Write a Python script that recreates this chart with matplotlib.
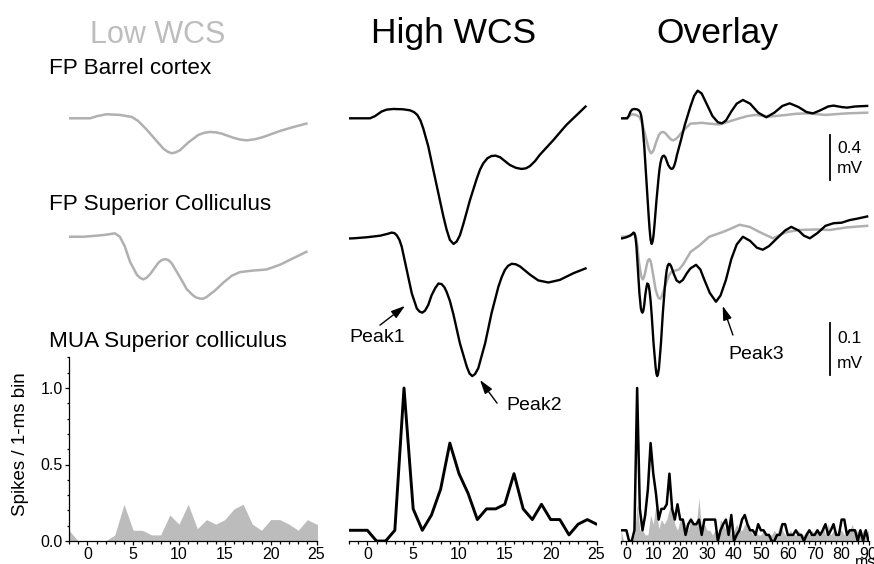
import numpy as np
import matplotlib
matplotlib.use('Agg')
import matplotlib.pyplot as plt
from matplotlib.ticker import MultipleLocator, FormatStrFormatter

plt.rcParams['font.family'] = ['Liberation Sans', 'DejaVu Sans']

GRAY = '#b0b0b0'
TITLE_GRAY = '#bdbdbd'
FILL_GRAY = '#bcbcbc'
W, H = 874, 564

# ---------------- data ----------------
# field potential, barrel cortex (mV re. baseline), time in ms
t_bc_high = [-3, 0.3, 0.85, 1.55, 2.1, 2.85, 3.9, 4.65, 5.1, 5.45, 5.8, 6.1, 6.65, 7.2, 7.75,
             8.3, 8.65, 9.0, 9.4, 9.75, 10.1, 10.5, 11.2, 11.95, 12.3, 12.65, 13.1, 13.55, 14.0,
             14.5, 15.0, 15.55, 16.2, 16.8, 17.3, 17.75, 18.3, 18.8, 20.3, 21.7, 23.8,
             25.2, 26.5, 28, 30, 32, 34, 35.5, 37, 39, 41, 43.3, 46, 49, 52, 55, 58, 60.7,
             64, 67, 69.4, 72, 75, 77, 80, 82, 85, 89.5]
v_bc_high = [0, 0, 0.02, 0.06, 0.077, 0.083, 0.08, 0.071, 0.055, 0.03, -0.02, -0.09, -0.25,
             -0.46, -0.667, -0.874, -0.99, -1.08, -1.117, -1.095, -1.04, -0.933, -0.726,
             -0.533, -0.455, -0.4, -0.355, -0.335, -0.332, -0.347, -0.38, -0.415, -0.44, -0.45,
             -0.445, -0.424, -0.38, -0.326, -0.193, -0.06, 0.104,
             0.2, 0.246, 0.22, 0.12, 0.02, -0.035, -0.045, -0.02, 0.06, 0.13, 0.163, 0.13,
             0.05, 0.009, 0.05, 0.11, 0.133, 0.1, 0.055, 0.044, 0.07, 0.105, 0.113, 0.1, 0.095,
             0.105, 0.11]
t_bc_low = [-3, 0.3, 1.0, 2.1, 3.55, 4.85, 5.55, 6.45, 7.4, 8.3, 8.75, 9.2, 9.65, 10.1, 11.0,
            12.1, 12.7, 13.4, 14.0, 14.65, 15.9, 16.6, 17.4, 18.3, 19.2, 21.0, 22.5, 23.9,
            25.5, 28, 31, 34.6, 38, 42, 45, 48, 53, 59.5, 63, 67, 74, 82, 89.5]
v_bc_low = [0, 0, 0.018, 0.036, 0.03, 0.012, -0.024, -0.098, -0.187, -0.27, -0.296, -0.311,
            -0.302, -0.284, -0.216, -0.148, -0.13, -0.121, -0.125, -0.136, -0.172, -0.188,
            -0.196, -0.186, -0.166, -0.113, -0.077, -0.047,
            -0.045, -0.04, -0.048, -0.055, -0.03, 0.0, 0.02, 0.03, 0.015, 0.03, 0.04, 0.044,
            0.03, 0.044, 0.05]

# field potential, superior colliculus (mV re. baseline)
t_sc_high = [-3, -1.5, -0.05, 1.4, 2.3, 2.65, 2.95, 3.2, 3.5, 3.75, 4.3, 4.85, 5.4, 5.7, 6.0,
             6.3, 6.65, 7.0, 7.4, 7.75, 8.1, 8.4, 8.65, 9.0, 9.4, 10.1, 10.85, 11.15, 11.45,
             11.75, 12.1, 12.85, 13.55, 14.3, 14.65, 15.0, 15.35, 15.75, 16.2, 16.65, 17.75,
             18.65, 19.75, 21.0, 22.5, 23.8,
             25.9, 27.5, 29, 31, 33.3, 35, 37, 39, 41, 43.3, 46, 48.5, 50.7, 53, 56, 59, 61.3,
             64, 66, 68.2, 71, 74, 77, 80, 83, 86, 89.5]
v_sc_high = [-0.001, 0, 0.002, 0.005, 0.009, 0.011, 0.01, 0.006, -0.003, -0.016, -0.061,
             -0.106, -0.135, -0.141, -0.143, -0.139, -0.128, -0.11, -0.096, -0.087, -0.088,
             -0.094, -0.103, -0.12, -0.147, -0.202, -0.247, -0.26, -0.265, -0.261, -0.25,
             -0.202, -0.144, -0.093, -0.075, -0.061, -0.053, -0.049, -0.05, -0.054, -0.07,
             -0.081, -0.085, -0.08, -0.067, -0.058,
             -0.051, -0.06, -0.08, -0.105, -0.122, -0.11, -0.08, -0.04, -0.012, 0.003, -0.005,
             -0.018, -0.022, -0.015, 0.0, 0.015, 0.022, 0.015, 0.005, 0.0, 0.01, 0.024, 0.029,
             0.03, 0.035, 0.038, 0.042]
t_sc_low = [-3, -1.9, -0.45, 1.0, 2.1, 3.0, 3.55, 4.1, 4.65, 5.4, 5.75, 6.1, 6.45, 6.85, 7.75,
            8.1, 8.5, 8.85, 9.2, 9.95, 10.85, 11.55, 11.9, 12.3, 12.65, 13.0, 13.95, 14.85,
            15.75, 16.65, 18.1, 19.55, 21.0, 22.5, 23.9,
            27.1, 30.8, 35.8, 39.5, 42, 45.8, 49.5, 54.5, 59.5, 64.4, 70.6, 75.6, 82, 89.5]
v_sc_low = [0, 0.003, 0.003, 0.005, 0.007, 0.0096, 0.003, -0.016, -0.045, -0.07, -0.076,
            -0.079, -0.076, -0.069, -0.047, -0.042, -0.04, -0.042, -0.048, -0.07, -0.098,
            -0.11, -0.114, -0.116, -0.116, -0.113, -0.1, -0.085, -0.072, -0.065, -0.062, -0.06,
            -0.051, -0.038, -0.026,
            -0.014, 0.003, 0.012, 0.02, 0.026, 0.022, 0.012, 0.0, 0.012, 0.016, 0.017, 0.016,
            0.021, 0.024]

# multi-unit activity, spikes per 1-ms bin, bins -2..90 ms
t_mua = list(range(-2, 91))
mua_high = [0.07, 0.07, 0.07, 0.0, 0.0, 0.07, 1.0, 0.21, 0.07, 0.17,
            0.34, 0.64, 0.44, 0.31, 0.14, 0.21, 0.21, 0.24, 0.44, 0.21,
            0.14, 0.24, 0.14, 0.14, 0.04, 0.11, 0.14, 0.11, 0.11, 0.14,
            0.04, 0.14, 0.14, 0.14, 0.14, 0.14, 0.0, 0.07, 0.11, 0.14,
            0.04, 0.17, 0.0, 0.04, 0.07, 0.14, 0.17, 0.11, 0.07, 0.07,
            0.04, 0.11, 0.07, 0.07, 0.04, 0.04, 0.0, 0.0, 0.04, 0.04,
            0.11, 0.11, 0.04, 0.04, 0.04, 0.07, 0.04, 0.04, 0.0, 0.04,
            0.07, 0.04, 0.04, 0.07, 0.04, 0.07, 0.11, 0.04, 0.07, 0.11,
            0.04, 0.04, 0.14, 0.14, 0.04, 0.07, 0.07, 0.07, 0.0, 0.07,
            0.0, 0.07, 0.0]
mua_low = [0.07, 0.0, 0.0, 0.0, 0.0, 0.04, 0.24, 0.07, 0.07, 0.04,
           0.04, 0.17, 0.11, 0.24, 0.08, 0.14, 0.11, 0.14, 0.21, 0.24,
           0.11, 0.07, 0.14, 0.14, 0.11, 0.07, 0.14, 0.11, 0.11, 0.28,
           0.07, 0.11, 0.07, 0.07, 0.04, 0.07, 0.04, 0.14, 0.11, 0.07,
           0.11, 0.04, 0.07, 0.11, 0.07, 0.07, 0.11, 0.11, 0.07, 0.04,
           0.07, 0.04, 0.04, 0.07, 0.04, 0.04, 0.04, 0.07, 0.04, 0.11,
           0.07, 0.04, 0.04, 0.07, 0.04, 0.04, 0.07, 0.04, 0.04, 0.07,
           0.04, 0.07, 0.04, 0.07, 0.04, 0.11, 0.04, 0.11, 0.04, 0.07,
           0.04, 0.07, 0.07, 0.04, 0.04, 0.07, 0.11, 0.04, 0.07, 0.04,
           0.07, 0.04, 0.07]

col_titles = ['Low WCS', 'High WCS', 'Overlay']
row_labels = ['FP Barrel cortex', 'FP Superior Colliculus', 'MUA Superior colliculus']

# ---------------- layout (pixels) ----------------
fig = plt.figure(figsize=(W / 100, H / 100), dpi=100)


def add_ax(left, top, width, height):
    return fig.add_axes([left / W, 1 - (top + height) / H, width / W, height / H])


def ftext(x, y, s, **kw):
    return fig.text(x / W, 1 - y / H, s, **kw)


col_left = [69, 349, 621]
col_w = 247.5
xlims = [(-2, 25), (-2, 25), (-2, 90)]
bc_base, bc_scale = 118.3, 112.5   # px, px per mV
sc_base, sc_scale = 238.3, 520.0
mua_top, mua_h = 357.4, 183.6


def trace_ax(col, top, height, base, scale):
    ax = add_ax(col_left[col], top, col_w, height)
    ax.set_xlim(*xlims[col])
    ax.set_ylim(-(top + height - base) / scale, (base - top) / scale)
    ax.axis('off')
    return ax


def clip(t, v, tmax):
    t = np.asarray(t)
    v = np.asarray(v)
    m = t <= tmax
    return t[m], v[m]


bc_axes = [trace_ax(c, 80, 180, bc_base, bc_scale) for c in range(3)]
sc_axes = [trace_ax(c, 215, 205, sc_base, sc_scale) for c in range(3)]

gkw = dict(color=GRAY, lw=1.8, solid_joinstyle='round')
kkw = dict(color='k', lw=1.7, solid_joinstyle='round')

# column 1: low WCS
bc_axes[0].plot(*clip(t_bc_low, v_bc_low, 24), **gkw)
sc_axes[0].plot(*clip(t_sc_low, v_sc_low, 24), **gkw)
# column 2: high WCS
bc_axes[1].plot(*clip(t_bc_high, v_bc_high, 24), **kkw)
sc_axes[1].plot(*clip(t_sc_high, v_sc_high, 24), **kkw)
# column 3: overlay
bc_axes[2].plot(t_bc_low, v_bc_low, **gkw)
bc_axes[2].plot(t_bc_high, v_bc_high, **kkw)
sc_axes[2].plot(t_sc_low, v_sc_low, **gkw)
sc_axes[2].plot(t_sc_high, v_sc_high, **kkw)

# scale bars
bc_axes[2].plot([75.7, 75.7], [-0.148, -0.548], color='k', lw=1.3)
bc_axes[2].text(78.3, -0.265, '0.4', fontsize=12.5, va='center', ha='left')
bc_axes[2].text(78.3, -0.442, 'mV', fontsize=12.5, va='center', ha='left')
sc_axes[2].plot([75.7, 75.7], [-0.162, -0.262], color='k', lw=1.3)
sc_axes[2].text(78.3, -0.192, '0.1', fontsize=12.5, va='center', ha='left')
sc_axes[2].text(78.3, -0.240, 'mV', fontsize=12.5, va='center', ha='left')

# peak annotations
arrow = dict(arrowstyle='-|>,head_length=0.7,head_width=0.22', color='k', lw=1,
             shrinkA=0, shrinkB=0, mutation_scale=12)
sc_axes[1].annotate('', xy=(4.11, -0.130), xytext=(1.38, -0.167), arrowprops=arrow)
sc_axes[1].text(1.06, -0.190, 'Peak1', fontsize=14, ha='center', va='center')
sc_axes[1].annotate('', xy=(12.29, -0.2725), xytext=(14.15, -0.317), arrowprops=arrow,
                    annotation_clip=False)
sc_axes[1].text(18.18, -0.3225, 'Peak2', fontsize=14, ha='center', va='center')
sc_axes[2].annotate('', xy=(35.8, -0.130), xytext=(39.6, -0.186), arrowprops=arrow)
sc_axes[2].text(48.4, -0.2235, 'Peak3', fontsize=14, ha='center', va='center')

# MUA panels
mua_axes = []
for c in range(3):
    ax = add_ax(col_left[c], mua_top, col_w, mua_h)
    ax.set_xlim(*xlims[c])
    ax.set_ylim(0, 1.2)
    ax.patch.set_visible(False)
    for s in ['top', 'right']:
        ax.spines[s].set_visible(False)
    ax.spines['bottom'].set_linewidth(0.9)
    ax.spines['left'].set_linewidth(0.9)
    ax.tick_params(which='major', direction='out', length=3, width=0.9, labelsize=11.5, pad=1.5)
    ax.tick_params(which='minor', direction='out', length=1.8, width=0.9)
    if c < 2:
        ax.xaxis.set_major_locator(MultipleLocator(5))
        ax.xaxis.set_minor_locator(MultipleLocator(1))
    else:
        ax.xaxis.set_major_locator(MultipleLocator(10))
        ax.xaxis.set_minor_locator(MultipleLocator(2))
    if c == 0:
        ax.yaxis.set_major_locator(MultipleLocator(0.5))
        ax.yaxis.set_minor_locator(MultipleLocator(0.1))
        ax.yaxis.set_major_formatter(FormatStrFormatter('%.1f'))
        ax.set_ylabel('Spikes / 1-ms bin', fontsize=13.5)
        ax.yaxis.set_label_coords(-0.16, 0.53)
    else:
        ax.spines['left'].set_visible(False)
        ax.tick_params(axis='y', which='both', left=False, labelleft=False)
    mua_axes.append(ax)

mua_axes[0].fill_between(t_mua, 0, mua_low, color=FILL_GRAY, lw=0)
mua_axes[1].plot(t_mua, mua_high, color='k', lw=2.1)
mua_axes[2].fill_between(t_mua, 0, mua_low, color=FILL_GRAY, lw=0)
mua_axes[2].plot(t_mua, mua_high, color='k', lw=1.8)

# texts
for x, s, col, fs in zip([158, 454, 717], col_titles, [TITLE_GRAY, 'k', 'k'], [22, 25.5, 25.5]):
    ftext(x, 43, s, fontsize=fs, ha='center', va='baseline', color=col)
for y, s in zip([74, 210, 347], row_labels):
    ftext(49, y, s, fontsize=16.2, ha='left', va='baseline')
ftext(866, 555, 'ms', fontsize=11.5, ha='center', va='top')

fig.savefig('out.png', dpi=100)
